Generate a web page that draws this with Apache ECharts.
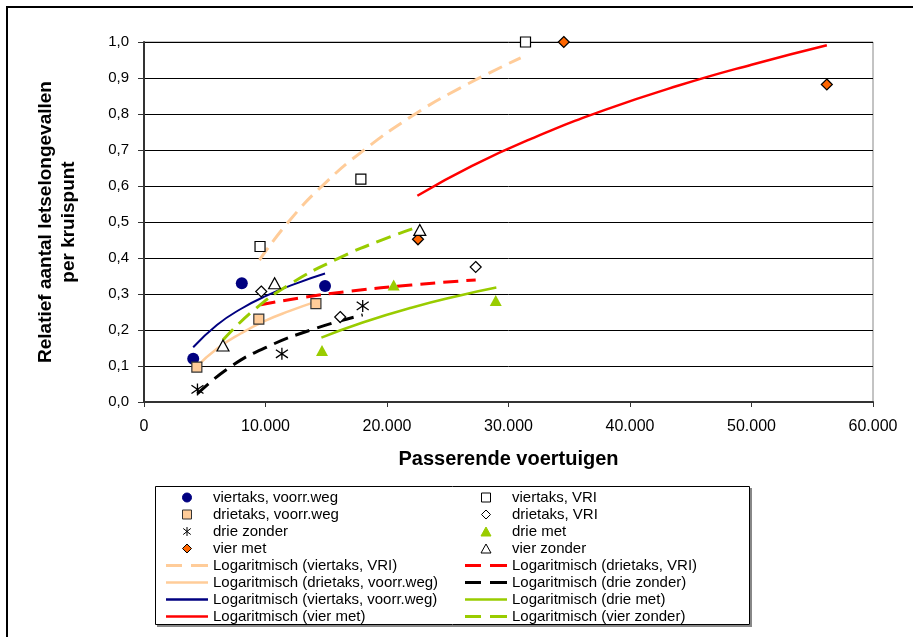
<!DOCTYPE html>
<html>
<head>
<meta charset="utf-8">
<script src="https://cdn.jsdelivr.net/npm/echarts@6/dist/echarts.min.js"></script>
<style>html,body{margin:0;padding:0;background:#fff}#c{width:913px;height:637px}</style>
</head>
<body>
<div id="c"></div>
<script>
// ---- data ----
var xTicks = [0, 10000, 20000, 30000, 40000, 50000, 60000];
var yTicks = [0, 0.1, 0.2, 0.3, 0.4, 0.5, 0.6, 0.7, 0.8, 0.9, 1.0];

var viertaksVoorrweg = [[4050, 0.120], [8050, 0.330], [14900, 0.322]];
var viertaksVRI      = [[9550, 0.432], [17850, 0.619], [31400, 1.000]];
var drietaksVoorrweg = [[4350, 0.097], [9450, 0.230], [14150, 0.273]];
var drietaksVRI      = [[9650, 0.307], [16150, 0.236], [27300, 0.375]];
var drieZonder       = [[4400, 0.035], [11350, 0.134], [18000, 0.267]];
var drieMet          = [[14650, 0.143], [20550, 0.325], [28950, 0.282]];
var vierMet          = [[22550, 0.452], [34550, 1.000], [56200, 0.882]];
var vierZonder       = [[6500, 0.157], [10750, 0.330], [22700, 0.478]];

// trend lines
var logViertaksVRI      = [[9500, 0.394], [12000, 0.505], [15000, 0.611], [18000, 0.697], [22000, 0.793], [26000, 0.872], [31000, 0.956]];
var logDrietaksVoorrweg = [[4300, 0.097], [6000, 0.148], [8000, 0.191], [10000, 0.226], [12000, 0.253], [14100, 0.278]];
var logViertaksVoorrweg = [[4050, 0.152], [6000, 0.214], [8000, 0.259], [10000, 0.294], [12500, 0.329], [14900, 0.357]];
var logVierMet          = [[22500, 0.573], [27000, 0.656], [32000, 0.733], [38000, 0.812], [44000, 0.879], [50000, 0.937], [56200, 0.991]];
var logDrietaksVRI      = [[9600, 0.270], [13000, 0.290], [17000, 0.308], [22000, 0.325], [27300, 0.339]];
var logDrieZonder       = [[4400, 0.023], [7000, 0.095], [10000, 0.151], [14000, 0.203], [18000, 0.242]];
var logDrieMet          = [[14600, 0.179], [18000, 0.221], [22000, 0.262], [26000, 0.296], [29000, 0.318]];
var logVierZonder       = [[6500, 0.172], [9000, 0.254], [12000, 0.327], [16000, 0.399], [19500, 0.449], [22700, 0.488]];

var legendLeft = ['viertaks, voorr.weg', 'drietaks, voorr.weg', 'drie zonder', 'vier met',
  'Logaritmisch (viertaks, VRI)', 'Logaritmisch (drietaks, voorr.weg)', 'Logaritmisch (viertaks, voorr.weg)', 'Logaritmisch (vier met)'];
var legendRight = ['viertaks, VRI', 'drietaks, VRI', 'drie met', 'vier zonder',
  'Logaritmisch (drietaks, VRI)', 'Logaritmisch (drie zonder)', 'Logaritmisch (drie met)', 'Logaritmisch (vier zonder)'];
var dashedTrends = ['Logaritmisch (viertaks, VRI)', 'Logaritmisch (drietaks, VRI)', 'Logaritmisch (drie zonder)', 'Logaritmisch (vier zonder)'];

var FONT = '"Liberation Sans", Arial, sans-serif';
var SYM = {
  asterisk: 'path://M5,0L5,10M0.8,1.6L9.2,8.4M0.8,8.4L9.2,1.6',
  square: 'path://M0,0L10,0L10,10L0,10Z',
  diamond: 'path://M5,0L10,5L5,10L0,5Z',
  triangle: 'path://M5,0L10,9L0,9Z',
  solidLine: 'path://M0,0L42,0L42,2.5L0,2.5Z',
  dashLine: 'path://M0,0L16,0L16,3L0,3Z M25,0L42,0L42,3L25,3Z'
};

function scatter(name, data, symbol, size, fill, border, bw) {
  return {
    type: 'scatter', name: name, data: data, symbol: symbol, symbolSize: size, z: 5,
    itemStyle: { color: fill, borderColor: border, borderWidth: bw, opacity: 1 }
  };
}
function trend(name, data, color, width, dashed) {
  return {
    type: 'line', name: name, data: data, smooth: true, symbol: 'none', showSymbol: false, z: 3,
    itemStyle: { color: color },
    lineStyle: { color: color, width: width, type: dashed ? [15, 8] : 'solid', cap: 'butt' }
  };
}
function legendData(names) {
  return names.map(function (n) {
    if (n.indexOf('Logaritmisch') === 0) {
      return { name: n, icon: dashedTrends.indexOf(n) >= 0 ? SYM.dashLine : SYM.solidLine,
        itemStyle: { borderWidth: 0 } };
    }
    return { name: n, itemStyle: { borderWidth: 1 } };
  });
}

var chart = echarts.init(document.getElementById('c'), null, { renderer: 'canvas' });
var legendCommon = {
  orient: 'vertical', itemWidth: 42, itemHeight: 9, itemGap: 2, padding: 0,
  selectedMode: false, inactiveColor: '#000', symbolKeepAspect: true,
  textStyle: { fontFamily: FONT, fontSize: 15, color: '#000' }
};
chart.setOption({
  animation: false,
  backgroundColor: '#fff',
  textStyle: { fontFamily: FONT },
  graphic: [
    { type: 'rect', shape: { x: 7, y: 7, width: 1000, height: 1000 }, style: { fill: 'none', stroke: '#000', lineWidth: 2 }, silent: true },
    { type: 'rect', shape: { x: 155.5, y: 486.5, width: 594, height: 138 }, style: { fill: '#fff', stroke: '#000', lineWidth: 1 }, z: -1, silent: true },
    { type: 'polyline', shape: { points: [[751, 488], [751, 626], [157, 626]] }, style: { fill: 'none', stroke: '#888', lineWidth: 2 }, silent: true }
  ],
  grid: { left: 144, right: 40, top: 42, bottom: 235, show: true, borderColor: '#888', borderWidth: 1, containLabel: false },
  legend: [
    Object.assign({ left: 166, top: 490, data: legendData(legendLeft) }, legendCommon),
    Object.assign({ left: 465, top: 490, data: legendData(legendRight) }, legendCommon)
  ],
  xAxis: {
    type: 'value', min: xTicks[0], max: xTicks[xTicks.length - 1], interval: 10000,
    name: 'Passerende voertuigen', nameLocation: 'middle', nameGap: 47,
    nameTextStyle: { fontFamily: FONT, fontSize: 20, fontWeight: 'bold', color: '#000' },
    axisLine: { show: true, onZero: false, lineStyle: { color: '#333', width: 2 } },
    axisTick: { show: true, inside: false, length: 5, lineStyle: { color: '#333', width: 1 } },
    axisLabel: { margin: 17, fontSize: 16, color: '#000', fontFamily: FONT,
      formatter: function (v) { return v === 0 ? '0' : (v / 1000) + '.000'; } },
    splitLine: { show: false }
  },
  yAxis: {
    type: 'value', min: yTicks[0], max: yTicks[yTicks.length - 1], interval: 0.1,
    name: 'Relatief aantal letselongevallen\nper kruispunt', nameLocation: 'middle', nameGap: 64, nameRotate: 90,
    nameTextStyle: { fontFamily: FONT, fontSize: 19, fontWeight: 'bold', color: '#000', lineHeight: 23 },
    axisLine: { show: true, lineStyle: { color: '#333', width: 2 } },
    axisTick: { show: true, inside: false, length: 6, lineStyle: { color: '#333', width: 1 } },
    axisLabel: { margin: 15, fontSize: 15, color: '#000', fontFamily: FONT,
      formatter: function (v) { return v.toFixed(1).replace('.', ','); } },
    splitLine: { show: true, lineStyle: { color: '#000', width: 1 } }
  },
  series: [
    trend('Logaritmisch (viertaks, VRI)', logViertaksVRI, '#FFCC99', 3, true),
    trend('Logaritmisch (drietaks, voorr.weg)', logDrietaksVoorrweg, '#FFCC99', 2.5, false),
    trend('Logaritmisch (viertaks, voorr.weg)', logViertaksVoorrweg, '#000080', 2, false),
    trend('Logaritmisch (vier met)', logVierMet, '#FF0000', 2.5, false),
    trend('Logaritmisch (drietaks, VRI)', logDrietaksVRI, '#FF0000', 3, true),
    trend('Logaritmisch (drie zonder)', logDrieZonder, '#000000', 3, true),
    trend('Logaritmisch (drie met)', logDrieMet, '#99CC00', 2.5, false),
    trend('Logaritmisch (vier zonder)', logVierZonder, '#99CC00', 3, true),
    scatter('viertaks, voorr.weg', viertaksVoorrweg, 'circle', 12, '#000080', '#000080', 0),
    scatter('viertaks, VRI', viertaksVRI, SYM.square, 10, '#FFFFFF', '#000', 1.2),
    scatter('drietaks, voorr.weg', drietaksVoorrweg, SYM.square, 10, '#FFCC99', '#333', 1.2),
    scatter('drietaks, VRI', drietaksVRI, SYM.diamond, 11, '#FFFFFF', '#000', 1.2),
    scatter('drie zonder', drieZonder, SYM.asterisk, 12, 'rgba(0,0,0,0)', '#000', 1.3),
    scatter('drie met', drieMet, SYM.triangle, [12, 11], '#99CC00', '#99CC00', 0),
    scatter('vier met', vierMet, SYM.diamond, 11, '#FF6600', '#000', 1.2),
    scatter('vier zonder', vierZonder, SYM.triangle, [12, 11], '#FFFFFF', '#000', 1.2)
  ]
});
</script>
</body>
</html>
